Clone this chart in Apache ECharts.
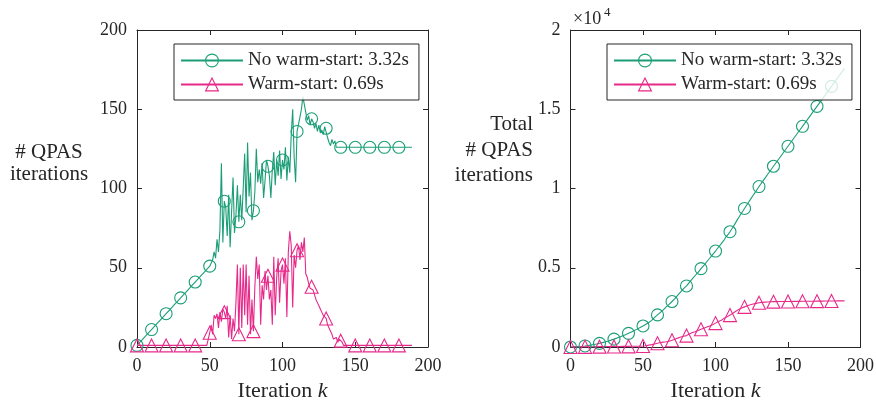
<!DOCTYPE html>
<html>
<head>
<meta charset="utf-8">
<script src="https://cdn.jsdelivr.net/npm/echarts@6/dist/echarts.min.js"></script>
<style>
  html, body { margin: 0; padding: 0; background: #fff; }
  #chart { width: 876px; height: 401px; }
</style>
</head>
<body>
<div id="chart"></div>
<script>
// Axis ticks
const xTicks = [0, 50, 100, 150, 200];
const leftYTicks = [0, 50, 100, 150, 200];
const rightYTicks = [0, 0.5, 1, 1.5, 2];   // in units of 10^4
const rightYScale = 10000;

const seriesNames = ['No warm-start: 3.32s', 'Warm-start: 0.69s'];
const markerEvery = 10;

// QPAS iterations per outer iteration k = 0..189, without warm-start
const noWarmStart = [
  1, 2, 3, 4, 5, 6, 7, 8, 9, 10,
  11, 12, 13, 14, 15, 16, 17, 18, 19, 20,
  21, 22, 23, 24, 25, 26, 27, 28, 29, 30,
  31, 32, 33, 34, 35, 36, 37, 38, 39, 40,
  41, 42, 43, 44, 45, 46, 47, 48, 49, 50,
  51,
  52, 55, 60, 56, 68, 60, 74, 116, 66, 92,
  88, 70, 96, 63, 85, 107, 72, 83, 102, 79,
  96, 80, 100, 122, 85, 129, 95, 110, 80, 86,
  98, 125, 104, 112, 103, 116, 94, 105, 118, 114,
  108, 94, 112, 123, 102, 118, 108, 124, 106, 118,
  112, 126, 105, 120, 110, 134, 150, 120, 104, 136,
  137, 145, 150, 158, 159, 148, 143, 146, 140, 144,
  142, 138, 141, 136, 140, 135, 137, 134, 139, 138,
  132, 129, 127, 131, 128, 130, 126, 127, 126, 126,
  126, 126, 126, 126, 126, 126, 126, 126, 126, 126,
  126, 126, 126, 126, 126, 126, 126, 126, 126, 126,
  126, 126, 126, 126, 126, 126, 126, 126, 126, 126,
  126, 126, 126, 126, 126, 126, 126, 126, 126, 126,
  126, 126, 126, 126, 126, 126, 126, 126, 126
];

// QPAS iterations per outer iteration k = 0..189, with warm-start
const warmStart = [
  1, 1, 1, 1, 1, 1, 1, 1, 1, 1,
  1, 1, 1, 1, 1, 1, 1, 1, 1, 1,
  1, 1, 1, 1, 1, 1, 1, 1, 1, 1,
  1, 1, 1, 1, 1, 1, 1, 1, 1, 1,
  1, 1, 1, 1, 1, 1, 1, 1, 1, 1,
  9,
  14, 8, 20, 18, 21, 12, 22, 16, 24, 22,
  18, 26, 6, 20, 5, 18, 10, 28, 52, 8,
  50, 12, 52, 20, 52, 14, 45, 8, 30, 10,
  38, 57, 43, 52, 14, 39, 30, 48, 36, 45,
  30, 36, 14, 57, 20, 44, 56, 28, 48, 52,
  40, 56, 19, 60, 73, 64, 25, 58, 50, 61,
  64, 55, 66, 60, 69, 46, 44, 40, 37, 38,
  36, 35, 30, 28, 26, 24, 22, 20, 19, 18,
  14, 12, 10, 8, 5, 4, 6, 3, 5, 4,
  3, 1, 1, 1, 1, 1, 1, 1, 1, 1,
  1, 1, 1, 1, 1, 1, 1, 1, 1, 1,
  1, 1, 1, 1, 1, 1, 1, 1, 1, 1,
  1, 1, 1, 1, 1, 1, 1, 1, 1, 1,
  1, 1, 1, 1, 1, 1, 1, 1, 1
];

const FONT = 'Liberation Serif';
const INK = '#262626';
const GREEN = '#1b9e77';
const PINK = '#e7298a';

const toPairs = arr => arr.map((v, k) => [k, v]);
const runningTotal = arr => { let s = 0; return arr.map(v => (s += v)); };

const step = t => t[1] - t[0];

function boxXAxes(gridIndex) {
  const common = {
    gridIndex, type: 'value',
    min: xTicks[0], max: xTicks[xTicks.length - 1], interval: step(xTicks),
    splitLine: { show: false },
    axisLine: { onZero: false, lineStyle: { color: INK, width: 1 } },
    axisTick: { inside: true, length: 5, lineStyle: { color: INK } }
  };
  return [
    Object.assign({}, common, {
      position: 'bottom',
      axisLabel: { fontFamily: FONT, fontSize: 18, color: INK, margin: 10 },
      name: '{t|Iteration }{k|k}',
      nameLocation: 'middle',
      nameGap: 32,
      nameTextStyle: {
        rich: {
          t: { fontFamily: FONT, fontSize: 22, color: INK },
          k: { fontFamily: FONT, fontSize: 22, fontStyle: 'italic', color: INK }
        }
      }
    }),
    Object.assign({}, common, { position: 'top', axisLabel: { show: false } })
  ];
}

function boxYAxes(gridIndex, ticks, scale, fmt) {
  const common = {
    gridIndex, type: 'value',
    min: ticks[0] * scale, max: ticks[ticks.length - 1] * scale, interval: step(ticks) * scale,
    splitLine: { show: false },
    axisLine: { onZero: false, lineStyle: { color: INK, width: 1 } },
    axisTick: { inside: true, length: 5, lineStyle: { color: INK } }
  };
  return [
    Object.assign({}, common, {
      position: 'left',
      axisLabel: { fontFamily: FONT, fontSize: 18, color: INK, margin: 10, formatter: fmt }
    }),
    Object.assign({}, common, { position: 'right', axisLabel: { show: false } })
  ];
}

function markerSize(size) {
  return (val, params) => (params.dataIndex % markerEvery === 0 ? size : 0);
}

function makeSeries(name, data, color, symbol, size, xIdx, yIdx) {
  return {
    name, type: 'line', data,
    xAxisIndex: xIdx, yAxisIndex: yIdx,
    showAllSymbol: true,
    symbol,
    symbolSize: markerSize(size),
    lineStyle: { color, width: 1.1 },
    itemStyle: { color: 'rgba(255,255,255,0)', borderColor: color, borderWidth: 1.1 },
    emphasis: { disabled: true },
    animation: false,
    z: 2
  };
}

const legendBase = {
  orient: 'vertical',
  data: seriesNames,
  selectedMode: false,
  backgroundColor: 'rgba(255,255,255,0.8)',
  borderColor: INK,
  borderWidth: 1,
  borderRadius: 0,
  padding: [7, 10, 6, 6],
  itemWidth: 62,
  itemHeight: 16,
  itemGap: 5,
  itemStyle: { borderWidth: 1.1 },
  textStyle: { fontFamily: FONT, fontSize: 19, color: INK }
};

const chart = echarts.init(document.getElementById('chart'), null, { renderer: 'canvas' });

chart.setOption({
  backgroundColor: '#fff',
  animation: false,
  grid: [
    { left: 137, top: 30, width: 291, height: 317, outerBoundsMode: 'none', containLabel: false },
    { left: 570.5, top: 30, width: 290, height: 317, outerBoundsMode: 'none', containLabel: false }
  ],
  xAxis: [...boxXAxes(0), ...boxXAxes(1)],
  yAxis: [
    ...boxYAxes(0, leftYTicks, 1, v => String(v)),
    ...boxYAxes(1, rightYTicks, rightYScale, v => String(v / rightYScale))
  ],
  legend: [
    Object.assign({}, legendBase, { left: 174, top: 44 }),
    Object.assign({}, legendBase, { left: 607, top: 44 })
  ],
  series: [
    makeSeries(seriesNames[0], toPairs(noWarmStart), GREEN, 'circle', 12, 0, 0),
    makeSeries(seriesNames[1], toPairs(warmStart), PINK, 'triangle', 13, 0, 0),
    makeSeries(seriesNames[0], toPairs(runningTotal(noWarmStart)), GREEN, 'circle', 12, 2, 2),
    makeSeries(seriesNames[1], toPairs(runningTotal(warmStart)), PINK, 'triangle', 13, 2, 2)
  ],
  graphic: [
    {
      type: 'text', x: 49, y: 163,
      style: {
        text: '# QPAS\niterations', textAlign: 'center', textVerticalAlign: 'middle',
        font: '21px "Liberation Serif"', lineHeight: 22, fill: INK
      }
    },
    {
      type: 'text', x: 533, y: 150,
      style: {
        text: 'Total\n# QPAS\niterations', textAlign: 'right', textVerticalAlign: 'middle',
        font: '21px "Liberation Serif"', lineHeight: 25.5, fill: INK
      }
    },
    {
      type: 'text', x: 573, y: 19,
      style: { text: '\u00d710', textAlign: 'left', textVerticalAlign: 'middle', font: '18px "Liberation Serif"', fill: INK }
    },
    {
      type: 'text', x: 604, y: 13,
      style: { text: '4', textAlign: 'left', textVerticalAlign: 'middle', font: '13px "Liberation Serif"', fill: INK }
    }
  ]
});
</script>
</body>
</html>
